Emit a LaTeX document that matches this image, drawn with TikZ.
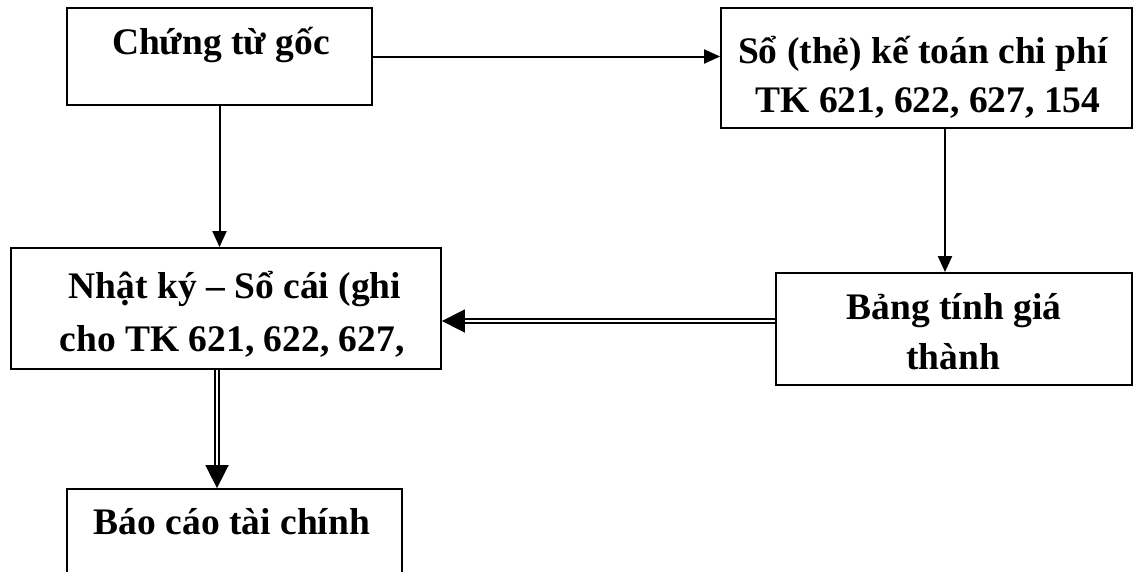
\documentclass[tikz,border=0pt]{standalone}
\usepackage{fontspec}
\setmainfont{Liberation Serif}
\usetikzlibrary{arrows.meta,calc}
\begin{document}
\begin{tikzpicture}[x=1pt,y=-1pt,
  box/.style={draw, line width=1.8pt, inner sep=0pt},
  lbl/.style={font=\bfseries\fontsize{37.5}{50}\selectfont, anchor=base, inner sep=0pt},
  flow/.style={line width=2pt, -{Triangle[length=16pt,width=14pt]}},
  dflow/.style={double, double distance=2.5pt, line width=1.6pt, -{Triangle[length=23pt,width=23pt]}}]
\useasboundingbox (0,0) rectangle (1139,571);
\clip (0,0) rectangle (1139,571);

% boxes
\node[box, minimum width=305pt, minimum height=97pt]  (b1) at (219.5,56.5) {};
\node[box, minimum width=411pt, minimum height=120pt] (b2) at (926.5,68) {};
\node[box, minimum width=430pt, minimum height=121pt] (b3) at (226,308.5) {};
\node[box, minimum width=356pt, minimum height=112pt] (b4) at (954,329) {};
\node[box, minimum width=335pt, minimum height=112pt] (b5) at (234.5,545) {};

% texts
\node[lbl] (t1)  at (221,54)  {Chứng từ gốc};
\node[lbl] (t2a) at (923,63)  {Sổ (thẻ) kế toán chi phí};
\node[lbl] (t2b) at (928,112) {TK 621, 622, 627, 154};
\node[lbl] (t3a) at (235,298) {Nhật ký – Sổ cái (ghi};
\node[lbl] (t3b) at (232,351) {cho TK 621, 622, 627,};
\node[lbl] (t4a) at (954,319) {Bảng tính giá};
\node[lbl] (t4b) at (953,369) {thành};
\node[lbl] (t5)  at (232,534) {Báo cáo tài chính};

% connectors
\coordinate (c24) at ($(b2.south)+(18.5,0)$);
\coordinate (c43) at ($(b4.west)+(0,-8)$);
\coordinate (c35) at ($(b3.south)+(-9,0)$);
\draw[flow] (b1.east) -- (b1.east -| b2.west);
\draw[flow] (b1.south) -- (b1.south |- b3.north);
\draw[flow] (c24) -- (c24 |- b4.north);
\draw[dflow] (c43) -- (c43 -| b3.east);
\draw[dflow] (c35) -- (c35 |- b5.north);
\end{tikzpicture}
\end{document}
